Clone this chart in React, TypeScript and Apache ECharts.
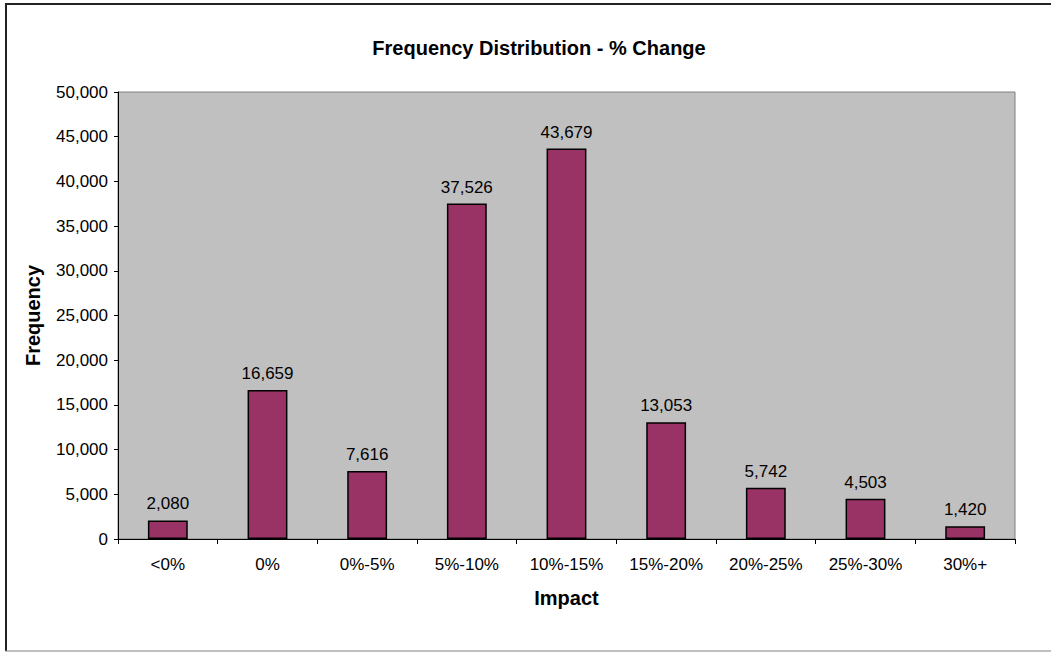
import React, { useEffect, useRef } from "react";
import * as echarts from "echarts";

const categories = ["<0%", "0%", "0%-5%", "5%-10%", "10%-15%", "15%-20%", "20%-25%", "25%-30%", "30%+"];
const frequencies = [2080, 16659, 7616, 37526, 43679, 13053, 5742, 4503, 1420];
const titleText = "Frequency Distribution - % Change";
const xAxisName = "Impact";
const yAxisName = "Frequency";

const fmt = (v: number) => v.toLocaleString("en-US");
const FONT = "'Liberation Sans', Arial, sans-serif";

export default function App() {
  const ref = useRef<HTMLDivElement>(null);
  useEffect(() => {
    if (!ref.current) return;
    const chart = echarts.init(ref.current, null, { renderer: "svg" });
    chart.setOption({
      animation: false,
      backgroundColor: "#ffffff",
      textStyle: { fontFamily: FONT },
      title: {
        text: titleText,
        left: 534,
        top: 33,
        textAlign: "center",
        textStyle: { fontFamily: FONT, fontSize: 20, fontWeight: "bold", color: "#000" },
      },
      grid: {
        left: 118,
        top: 92,
        right: 36,
        bottom: 113,
        show: true,
        backgroundColor: "#C0C0C0",
        borderColor: "#808080",
        borderWidth: 1,
      },
      xAxis: {
        type: "category",
        data: categories,
        name: xAxisName,
        nameLocation: "middle",
        nameGap: 49,
        nameTextStyle: { fontFamily: FONT, fontSize: 20, fontWeight: "bold", color: "#000" },
        axisLine: { lineStyle: { color: "#000", width: 1 } },
        axisTick: { show: true, alignWithLabel: false, length: 5, lineStyle: { color: "#000" } },
        axisLabel: { fontFamily: FONT, fontSize: 17, color: "#000", margin: 17 },
        splitLine: { show: false },
      },
      yAxis: {
        type: "value",
        min: 0,
        max: 50000,
        interval: 5000,
        name: yAxisName,
        nameLocation: "middle",
        nameGap: 75,
        nameTextStyle: { fontFamily: FONT, fontSize: 20, fontWeight: "bold", color: "#000" },
        axisLine: { show: true, lineStyle: { color: "#000", width: 1 } },
        axisTick: { show: true, length: 4, lineStyle: { color: "#000" } },
        axisLabel: { fontFamily: FONT, fontSize: 17, color: "#000", margin: 10, formatter: (v: number) => fmt(v) },
        splitLine: { show: false },
      },
      series: [
        {
          type: "bar",
          data: frequencies,
          barCategoryGap: "60%",
          itemStyle: { color: "#993366", borderColor: "#000", borderWidth: 1.5 },
          label: {
            show: true,
            position: "top",
            distance: 8,
            fontFamily: FONT,
            fontSize: 17,
            color: "#000",
            formatter: (p: any) => fmt(p.value),
          },
        },
      ],
      graphic: [
        { type: "line", shape: { x1: 5, y1: 4, x2: 1051, y2: 4 }, style: { stroke: "#222", lineWidth: 2 } },
        { type: "line", shape: { x1: 6, y1: 3, x2: 6, y2: 651 }, style: { stroke: "#222", lineWidth: 2 } },
        { type: "line", shape: { x1: 5, y1: 651, x2: 1051, y2: 651 }, style: { stroke: "#808080", lineWidth: 1 } },
      ],
    });
    return () => chart.dispose();
  }, []);
  return (
    <div
      ref={ref}
      style={{ position: "fixed", left: 0, top: 0, width: 1051, height: 652 }}
    />
  );
}
